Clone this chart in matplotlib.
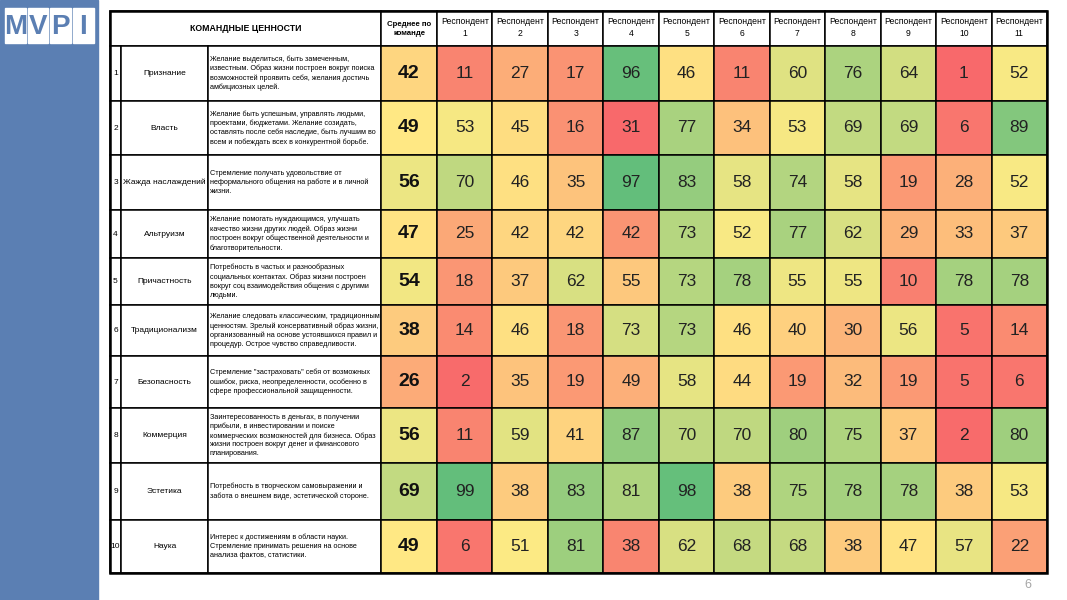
import matplotlib.pyplot as plt
import numpy as np
from matplotlib.colors import LinearSegmentedColormap, TwoSlopeNorm
from matplotlib.patches import Rectangle

# table data
value_names = [
    "Признание", "Власть", "Жажда наслаждений", "Альтруизм", "Причастность",
    "Традиционализм", "Безопасность", "Коммерция", "Эстетика", "Наука",
]
descriptions = [
    "Желание выделиться, быть замеченным,\nизвестным. Образ жизни построен вокруг поиска\n"
    "возможностей проявить себя, желания достичь\nамбициозных целей.",
    "Желание быть успешным, управлять людьми,\nпроектами, бюджетами. Желание созидать,\n"
    "оставлять после себя наследие, быть лучшим во\nвсем и побеждать всех в конкурентной борьбе.",
    "Стремление получать удовольствие от\nнеформального общения на работе и в личной\nжизни.",
    "Желание помогать нуждающимся, улучшать\nкачество жизни других людей. Образ жизни\n"
    "построен вокруг общественной деятельности и\nблаготворительности.",
    "Потребность в частых и разнообразных\nсоциальных контактах. Образ жизни построен\n"
    "вокруг соц взаимодействия общения с другими\nлюдьми.",
    "Желание следовать классическим, традиционным\nценностям. Зрелый консервативный образ жизни,\n"
    "организованный на основе устоявшихся правил и\nпроцедур. Острое чувство справедливости.",
    "Стремление \"застраховать\" себя от возможных\nошибок, риска, неопределенности, особенно в\n"
    "сфере профессиональной защищенности.",
    "Заинтересованность в деньгах, в получении\nприбыли, в инвестировании и поиске\n"
    "коммерческих возможностей для бизнеса. Образ\nжизни построен вокруг денег и финансового\nпланирования.",
    "Потребность в творческом самовыражении и\nзабота о внешнем виде, эстетической стороне.",
    "Интерес к достижениям в области науки.\nСтремление принимать решения на основе\nанализа фактов, статистики.",
]
team_avg = [42, 49, 56, 47, 54, 38, 26, 56, 69, 49]
respondents = ["Респондент\n%d" % i for i in range(1, 12)]
scores = [
    [11, 27, 17, 96, 46, 11, 60, 76, 64, 1, 52],
    [53, 45, 16, 31, 77, 34, 53, 69, 69, 6, 89],
    [70, 46, 35, 97, 83, 58, 74, 58, 19, 28, 52],
    [25, 42, 42, 42, 73, 52, 77, 62, 29, 33, 37],
    [18, 37, 62, 55, 73, 78, 55, 55, 10, 78, 78],
    [14, 46, 18, 73, 73, 46, 40, 30, 56, 5, 14],
    [2, 35, 19, 49, 58, 44, 19, 32, 19, 5, 6],
    [11, 59, 41, 87, 70, 70, 80, 75, 37, 2, 80],
    [99, 38, 83, 81, 98, 38, 75, 78, 78, 38, 53],
    [6, 51, 81, 38, 62, 68, 68, 38, 47, 57, 22],
]
# columns that got their own colour scale in the source sheet
own_scale_cols = [3]

# layout (pixels)
W, H = 1067, 600
BLUE = "#5b7fb3"
FONT = "Liberation Sans"
x_num, x_name, x_desc, x_avg, x_resp, x_end = 110, 121, 208, 381, 437, 1047
row_edges = [11, 46, 101, 155, 210, 258, 305, 356, 408, 463, 520, 573]

cmap = LinearSegmentedColormap.from_list("excel3", ["#f8696b", "#ffeb84", "#63be7b"])
data = np.array(scores)
gmin, gmax = data.min(), data.max()
global_norm = TwoSlopeNorm(vmin=gmin, vcenter=(gmin + gmax) / 2, vmax=gmax)

plt.rcParams["font.family"] = [FONT, "DejaVu Sans"]

fig = plt.figure(figsize=(W / 100, H / 100), dpi=100)
ax = fig.add_axes([0, 0, 1, 1])
ax.set_xlim(0, W)
ax.set_ylim(H, 0)
ax.axis("off")

# side bar + logo
ax.add_patch(Rectangle((0, 0), 98, H, color=BLUE, zorder=1))
for i, letter in enumerate("MVPI"):
    bx = 5 + i * 22.6
    ax.add_patch(Rectangle((bx, 7.5), 20.8, 35.5, color="white", zorder=2))
    ax.text(bx + 10.4, 26.5, letter, color=BLUE, fontsize=20, fontweight="bold",
            ha="center", va="center", zorder=3)

resp_w = (x_end - x_resp) / len(respondents)
resp_x = [x_resp + i * resp_w for i in range(len(respondents))]
lw = 1.1

def cell(x, y, w, h, fc="white"):
    ax.add_patch(Rectangle((x, y), w, h, facecolor=fc, edgecolor="black", lw=lw, zorder=4))

# header row
top, hb = row_edges[0], row_edges[1]
cell(x_num, top, x_avg - x_num, hb - top)
ax.text((x_num + x_avg) / 2, (top + hb) / 2, "КОМАНДНЫЕ ЦЕННОСТИ", fontsize=6.3, fontweight="bold",
        ha="center", va="center", zorder=5)
cell(x_avg, top, x_resp - x_avg, hb - top)
ax.text((x_avg + x_resp) / 2, (top + hb) / 2 + 0.5, "Среднее по\nкоманде", fontsize=5.6, fontweight="bold",
        ha="center", va="center", linespacing=1.4, zorder=5)
for xr, name in zip(resp_x, respondents):
    cell(xr, top, resp_w, hb - top)
    ax.text(xr + resp_w / 2, (top + hb) / 2 - 1, name, fontsize=6.2,
            ha="center", va="center", linespacing=1.3, zorder=5)

# body rows
for r in range(len(value_names)):
    y0, y1 = row_edges[r + 1], row_edges[r + 2]
    h, yc = y1 - y0, (y0 + y1) / 2
    cell(x_num, y0, x_name - x_num, h)
    ax.text((x_num + x_name) / 2, yc, str(r + 1), fontsize=6,
            ha="center", va="center", zorder=5)
    cell(x_name, y0, x_desc - x_name, h)
    ax.text((x_name + x_desc) / 2, yc, value_names[r], fontsize=6,
            ha="center", va="center", zorder=5)
    cell(x_desc, y0, x_avg - x_desc, h)
    ax.text(x_desc + 1.5, yc, descriptions[r], fontsize=5.2,
            ha="left", va="center", linespacing=1.37, zorder=5)
    cell(x_avg, y0, x_resp - x_avg, h, fc=cmap(global_norm(team_avg[r])))
    ax.text((x_avg + x_resp) / 2, yc, str(team_avg[r]), fontsize=14, fontweight="bold",
            ha="center", va="center", color="#111111", zorder=5)
    for c, xr in enumerate(resp_x):
        v = scores[r][c]
        if c in own_scale_cols:
            col = data[:, c]
            norm = TwoSlopeNorm(vmin=col.min(), vcenter=(col.min() + col.max()) / 2, vmax=col.max())
        else:
            norm = global_norm
        cell(xr, y0, resp_w, h, fc=cmap(norm(v)))
        ax.text(xr + resp_w / 2, yc, str(v), fontsize=12.5,
                ha="center", va="center", color="#222222", zorder=5)

# outer frame
ax.add_patch(Rectangle((x_num, row_edges[0]), x_end - x_num, row_edges[-1] - row_edges[0],
                       fill=False, edgecolor="black", lw=1.8, zorder=6))

ax.text(1028, 585, "6", fontsize=9, color="#a6a6a6", ha="center", va="center")

fig.savefig("out.png", dpi=100)
